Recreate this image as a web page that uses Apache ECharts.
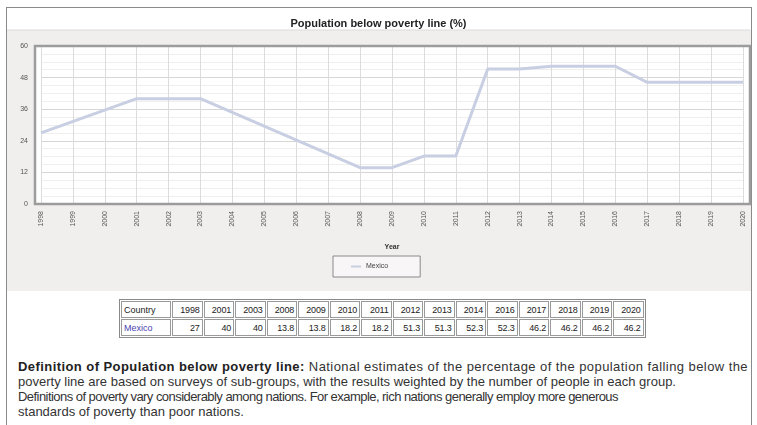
<!DOCTYPE html>
<html>
<head>
<meta charset="utf-8">
<script src="https://cdn.jsdelivr.net/npm/echarts@6/dist/echarts.min.js"></script>
<style>
  html, body { margin:0; padding:0; background:#fff; width:757px; height:425px; overflow:hidden; }
  #frame { position:absolute; left:6px; top:7px; width:746px; height:430px; border:1px solid #8a8a8a; box-sizing:border-box; }
  #chart { position:absolute; left:0; top:0; width:757px; height:292px; }
  #tbl { position:absolute; left:119px; top:299px; border-collapse:separate; border-spacing:1px; border:1px solid #8a8a8a; font-family:Arial, "Liberation Sans", sans-serif; font-size:9px; color:#222; table-layout:fixed; }
  #tbl td { border:1px solid #9a9a9a; padding:0 2px; height:15px; text-align:right; width:24.5px; white-space:nowrap; overflow:hidden; letter-spacing:-0.2px; }
  #tbl td.first { text-align:left; width:44px; letter-spacing:0; }
  #tbl a { color:#4a3fb0; text-decoration:none; }
  #def { position:absolute; left:18px; top:359px; font-family:Arial, "Liberation Sans", sans-serif; font-size:13px; line-height:15px; color:#333; }
  #def div { white-space:nowrap; height:15px; }
  #def b { color:#222; }
</style>
</head>
<body>
<div id="frame"></div>
<div id="chart"></div>
<table id="tbl"><tbody><tr id="r1"></tr><tr id="r2"></tr></tbody></table>
<div id="def">
  <div data-w="730"><b>Definition of Population below poverty line:</b> National estimates of the percentage of the population falling below the</div>
  <div data-w="658">poverty line are based on surveys of sub-groups, with the results weighted by the number of people in each group.</div>
  <div data-w="600">Definitions of poverty vary considerably among nations. For example, rich nations generally employ more generous</div>
  <div data-w="226">standards of poverty than poor nations.</div>
</div>
<script>
const years = [1998, 2001, 2003, 2008, 2009, 2010, 2011, 2012, 2013, 2014, 2016, 2017, 2018, 2019, 2020];
const values = [27, 40, 40, 13.8, 13.8, 18.2, 18.2, 51.3, 51.3, 52.3, 52.3, 46.2, 46.2, 46.2, 46.2];
const country = 'Mexico';
const titleText = 'Population below poverty line (%)';

// table
const r1 = document.getElementById('r1');
const r2 = document.getElementById('r2');
r1.innerHTML = '<td class="first">Country</td>' + years.map(y => '<td>' + y + '</td>').join('');
r2.innerHTML = '<td class="first"><a>' + country + '</a></td>' + values.map(v => '<td>' + v + '</td>').join('');

// fit definition lines to reference widths via letter-spacing
document.querySelectorAll('#def div').forEach(d => {
  const span = document.createElement('span');
  span.innerHTML = d.innerHTML; d.innerHTML = ''; d.appendChild(span);
  const w = span.getBoundingClientRect().width;
  const n = span.textContent.length;
  const target = +d.dataset.w;
  if (w > 0 && n > 1) d.style.letterSpacing = ((target - w) / n) + 'px';
});

const chart = echarts.init(document.getElementById('chart'));
chart.setOption({
  backgroundColor: 'transparent',
  animation: false,
  title: {
    text: titleText, left: 'center', top: 13,
    textStyle: { fontSize: 11, fontWeight: 'bold', color: '#222', fontFamily: 'Arial' }
  },
  graphic: [
    { type: 'rect', shape: { x: 7, y: 30, width: 744, height: 261 }, style: { fill: '#f1eeee' }, z: -20, silent: true },
    { type: 'line', shape: { x1: 7, y1: 30, x2: 750, y2: 30 }, style: { stroke: '#dddada', lineWidth: 1 }, z: -19, silent: true },
    { type: 'rect', shape: { x: 35, y: 46, width: 715, height: 158 }, style: { fill: '#ffffff' }, z: -18, silent: true },
    { type: 'rect', shape: { x: 35, y: 46, width: 715, height: 158 }, style: { fill: null, stroke: '#9c9c9c', lineWidth: 2.5 }, z: 50, silent: true }
  ],
  grid: {
    left: 41, top: 46, right: 14, bottom: 88
  },
  legend: {
    top: 256, left: 333,
    data: [country],
    itemWidth: 10, itemHeight: 2, itemGap: 6,
    padding: [7, 32, 7, 18],
    borderColor: '#8a8a8a', borderWidth: 1, backgroundColor: '#f8f6f6',
    icon: 'rect',
    textStyle: { fontSize: 7, color: '#444', fontFamily: 'Arial' }
  },
  xAxis: {
    type: 'value', min: 1998, max: 2020, interval: 1,
    name: 'Year', nameLocation: 'middle', nameGap: 40,
    nameTextStyle: { fontSize: 7, color: '#333', fontWeight: 'bold', fontFamily: 'Arial' },
    axisLine: { show: false }, axisTick: { show: false },
    axisLabel: { rotate: 90, fontSize: 7, color: '#555', margin: 7, formatter: v => String(v), fontFamily: 'Arial' },
    splitLine: { show: true, lineStyle: { color: '#dcdcdc', width: 1 } }
  },
  yAxis: {
    type: 'value', min: 0, max: 60, interval: 12,
    axisLine: { show: false }, axisTick: { show: false },
    axisLabel: { fontSize: 7, color: '#555', margin: 13, fontFamily: 'Arial' },
    splitLine: { show: true, lineStyle: { color: '#d6d6d6', width: 1 } },
    minorTick: { show: false, splitNumber: 4 },
    minorSplitLine: { show: true, lineStyle: { color: '#efefef', width: 1 } }
  },
  series: [{
    name: country, type: 'line',
    data: years.map((y, i) => [y, values[i]]),
    showSymbol: false, symbol: 'none',
    lineStyle: { color: '#c9cfe2', width: 3 },
    itemStyle: { color: '#c9cfe2' }
  }]
});
</script>
</body>
</html>
